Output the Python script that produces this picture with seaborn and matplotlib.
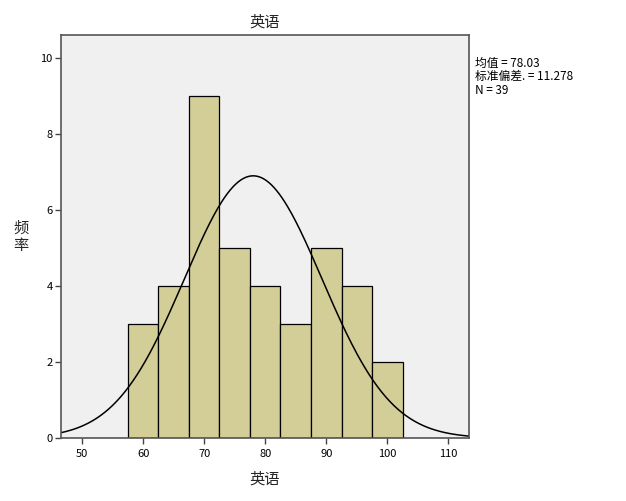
import matplotlib
matplotlib.use('Agg')
import matplotlib.pyplot as plt
import seaborn as sns
import numpy as np

# histogram data
bin_edges = [57.5, 62.5, 67.5, 72.5, 77.5, 82.5, 87.5, 92.5, 97.5, 102.5]
counts = [3, 4, 9, 5, 4, 3, 5, 4, 2]
mean_val = 78.03
sd_val = 11.278
n_val = 39
x_ticks = [50, 60, 70, 80, 90, 100, 110]
y_ticks = [0, 2, 4, 6, 8, 10]

sns.set_style('white')
plt.rcParams['font.family'] = ['Noto Sans CJK SC', 'DejaVu Sans']

fig = plt.figure(figsize=(6.26, 5.01), dpi=100)
ax = fig.add_axes([0.0974, 0.1257, 0.652, 0.8043])
ax.set_facecolor('#f0f0f0')

centers = [(a + b) / 2 for a, b in zip(bin_edges[:-1], bin_edges[1:])]
sns.histplot(x=centers, weights=counts, bins=bin_edges, ax=ax,
             color='#d3ce98', alpha=1, edgecolor='black', linewidth=0.9)

# fitted normal curve
width = bin_edges[1] - bin_edges[0]
xs = np.linspace(46.5, 113.4, 300)
ys = n_val * width / (sd_val * np.sqrt(2 * np.pi)) * np.exp(-0.5 * ((xs - mean_val) / sd_val) ** 2)
sns.lineplot(x=xs, y=ys, ax=ax, color='black', linewidth=1.1)

ax.set_xlim(46.55, 113.4)
ax.set_ylim(0, 10.6)
ax.set_xticks(x_ticks)
ax.set_yticks(y_ticks)
ax.tick_params(axis='both', bottom=True, left=True, direction='out', length=4,
               width=1, color='#444444', labelcolor='black', labelsize=8, pad=2)
ax.tick_params(axis='x', pad=4)
for s in ax.spines.values():
    s.set_color('#555555')
    s.set_linewidth(1.2)

ax.set_title('英语', fontsize=11, pad=6)
ax.set_xlabel('英语', fontsize=11, labelpad=8)
ax.set_ylabel('频\n率', fontsize=11, rotation=0, labelpad=14, va='center',
              linespacing=1.0)

fig.text(0.759, 0.887, '均值 = 78.03\n标准偏差. = 11.278\nN = 39',
         fontsize=8.5, va='top', ha='left', linespacing=1.05, color='black')

fig.savefig('out.png', dpi=100)
